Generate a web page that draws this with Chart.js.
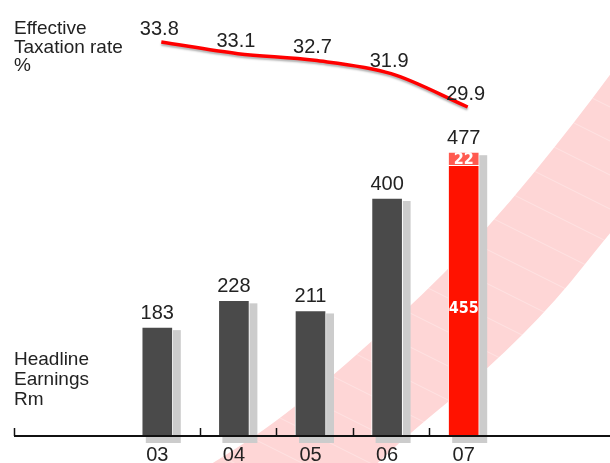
<!DOCTYPE html>
<html>
<head>
<meta charset="utf-8">
<script src="https://cdn.jsdelivr.net/npm/chart.js@4.4.1/dist/chart.umd.min.js"></script>
<style>
  html, body { margin: 0; padding: 0; background: #fff; }
  #wrap { width: 610px; height: 463px; position: relative; }
</style>
</head>
<body>
<div id="wrap"><canvas id="chart"></canvas></div>
<script>
const years = ['03', '04', '05', '06', '07'];
const earnings = [183, 228, 211, 400, 455];
const earningsExtra = [null, null, null, null, 22];
const taxRate = [33.8, 33.1, 32.7, 31.9, 29.9];

const DARK = '#4a4a4a';
const RED = '#ff1200';
const LIGHT_RED = '#ff5a50';
const TEXT = '#222';
const FONT = '"Liberation Sans", Arial, sans-serif';
const NARROW = '"Liberation Sans Narrow", "DejaVu Sans Condensed", sans-serif';

const barColors = earnings.map((v, i) => i === earnings.length - 1 ? RED : DARK);
const totals = earnings.map((v, i) => v + (earningsExtra[i] || 0));

// smooth path through a list of points (quadratic segments via midpoints)
function smoothTo(ctx, pts, move) {
  if (move) ctx.moveTo(pts[0][0], pts[0][1]);
  else ctx.lineTo(pts[0][0], pts[0][1]);
  for (let i = 1; i < pts.length - 1; i++) {
    const mx = (pts[i][0] + pts[i + 1][0]) / 2;
    const my = (pts[i][1] + pts[i + 1][1]) / 2;
    ctx.quadraticCurveTo(pts[i][0], pts[i][1], mx, my);
  }
  const last = pts[pts.length - 1];
  ctx.lineTo(last[0], last[1]);
}

const decor = {
  id: 'decor',
  beforeDraw(chart) {
    // pink sweep in the background
    const ctx = chart.ctx;
    const upper = [[150, 500], [215, 463], [293, 410], [400, 317], [487, 230], [577, 120], [650, 20]];
    const lower = [[680, 150], [610, 232], [557, 300], [487, 370], [410, 433], [370, 470], [330, 510]];
    ctx.save();
    ctx.beginPath();
    smoothTo(ctx, upper, true);
    smoothTo(ctx, lower, false);
    ctx.closePath();
    ctx.fillStyle = '#fed6d6';
    ctx.fill();
    ctx.clip();
    ctx.strokeStyle = 'rgba(255,255,255,0.3)';
    ctx.lineWidth = 1;
    for (let c = -300; c < 500; c += 34) {
      ctx.beginPath();
      ctx.moveTo(150, 150 * 0.5 + c);
      ctx.lineTo(700, 700 * 0.5 + c);
      ctx.stroke();
    }
    ctx.restore();
  },
  beforeDatasetsDraw(chart) {
    // grey drop shadows behind each bar stack
    const ctx = chart.ctx;
    const base = chart.getDatasetMeta(0).data;
    const extra = chart.getDatasetMeta(1).data;
    ctx.save();
    ctx.fillStyle = '#cccccc';
    base.forEach((el, i) => {
      const top = earningsExtra[i] ? extra[i].y : el.y;
      const left = el.x - el.width / 2 + 4;
      const right = el.x + el.width / 2 + 8;
      ctx.fillRect(left, top + 3, right - left, el.base + 7 - top - 3);
    });
    ctx.restore();
  },
  beforeDatasetDraw(chart, args) {
    if (args.index === 2) {
      const ctx = chart.ctx;
      ctx.save();
      ctx.translate(4, 0);
      ctx.shadowColor = 'rgba(0,0,0,0.3)';
      ctx.shadowOffsetY = 2;
      ctx.shadowBlur = 2;
    }
  },
  afterDatasetDraw(chart, args) {
    if (args.index === 2) chart.ctx.restore();
  },
  afterDatasetsDraw(chart) {
    const ctx = chart.ctx;
    const area = chart.chartArea;
    const xs = chart.scales.x;
    const y0 = area.bottom;

    // axis line with ticks between the years
    ctx.save();
    ctx.strokeStyle = '#111';
    ctx.lineWidth = 2;
    ctx.beginPath();
    ctx.moveTo(14, y0);
    ctx.lineTo(chart.width, y0);
    ctx.stroke();
    ctx.lineWidth = 1.5;
    const tickXs = [14];
    for (let i = 0; i < years.length - 1; i++) {
      tickXs.push((xs.getPixelForValue(i) + xs.getPixelForValue(i + 1)) / 2 + 4);
    }
    tickXs.forEach(x => {
      ctx.beginPath();
      ctx.moveTo(Math.round(x) + 0.5, y0 - 8);
      ctx.lineTo(Math.round(x) + 0.5, y0);
      ctx.stroke();
    });

    // totals above the bars
    const base = chart.getDatasetMeta(0).data;
    const extra = chart.getDatasetMeta(1).data;
    ctx.fillStyle = TEXT;
    ctx.font = '20px ' + FONT;
    ctx.textAlign = 'center';
    ctx.textBaseline = 'alphabetic';
    base.forEach((el, i) => {
      const top = earningsExtra[i] ? extra[i].y : el.y;
      ctx.fillText(String(totals[i]), el.x, top - 8);
    });

    // split values inside the last bar
    ctx.fillStyle = '#fff';
    ctx.font = 'bold 16px ' + NARROW;
    ctx.textBaseline = 'middle';
    base.forEach((el, i) => {
      if (!earningsExtra[i]) return;
      const ex = extra[i];
      ctx.fillText(String(earningsExtra[i]), ex.x, (ex.y + ex.base) / 2 + 1);
      ctx.fillText(String(earnings[i]), el.x, (el.y + el.base) / 2 + 8);
    });

    // tax rate values above the line
    const pts = chart.getDatasetMeta(2).data;
    ctx.fillStyle = TEXT;
    ctx.font = '20px ' + FONT;
    ctx.textBaseline = 'alphabetic';
    pts.forEach((p, i) => {
      ctx.fillText(taxRate[i].toFixed(1), p.x + 2, p.y - 7);
    });

    // series titles
    ctx.textAlign = 'left';
    ctx.font = '19px ' + FONT;
    ['Effective', 'Taxation rate', '%'].forEach((t, i) => ctx.fillText(t, 14, 34 + i * 18.5));
    ['Headline', 'Earnings', 'Rm'].forEach((t, i) => ctx.fillText(t, 14, 365 + i * 20));
    ctx.restore();
  }
};

new Chart(document.getElementById('chart'), {
  data: {
    labels: years,
    datasets: [
      {
        type: 'bar',
        data: earnings,
        backgroundColor: barColors,
        borderColor: '#fff',
        borderWidth: 1,
        barThickness: 31,
        stack: 'he',
        order: 1
      },
      {
        type: 'bar',
        data: earningsExtra,
        backgroundColor: LIGHT_RED,
        borderColor: '#fff',
        borderWidth: 1,
        barThickness: 31,
        stack: 'he',
        order: 1
      },
      {
        type: 'line',
        data: taxRate,
        yAxisID: 'y2',
        borderColor: '#ff0000',
        borderWidth: 3.5,
        pointRadius: 0,
        cubicInterpolationMode: 'monotone',
        fill: false,
        order: 0
      }
    ]
  },
  options: {
    responsive: true,
    maintainAspectRatio: false,
    animation: false,
    events: [],
    layout: { padding: { left: 119, right: 108, top: 10, bottom: 0 } },
    plugins: { legend: { display: false }, tooltip: { enabled: false } },
    scales: {
      x: {
        type: 'category',
        offset: true,
        stacked: true,
        grid: { display: false, drawTicks: false },
        border: { display: false },
        ticks: { color: TEXT, font: { size: 20, family: FONT }, padding: 7 },
        afterFit(scale) { scale.height = 27; }
      },
      y: {
        display: false,
        stacked: true,
        min: 0,
        max: 716
      },
      y2: {
        display: false,
        min: 10.16,
        max: 35.72
      }
    }
  },
  plugins: [decor]
});
</script>
</body>
</html>
